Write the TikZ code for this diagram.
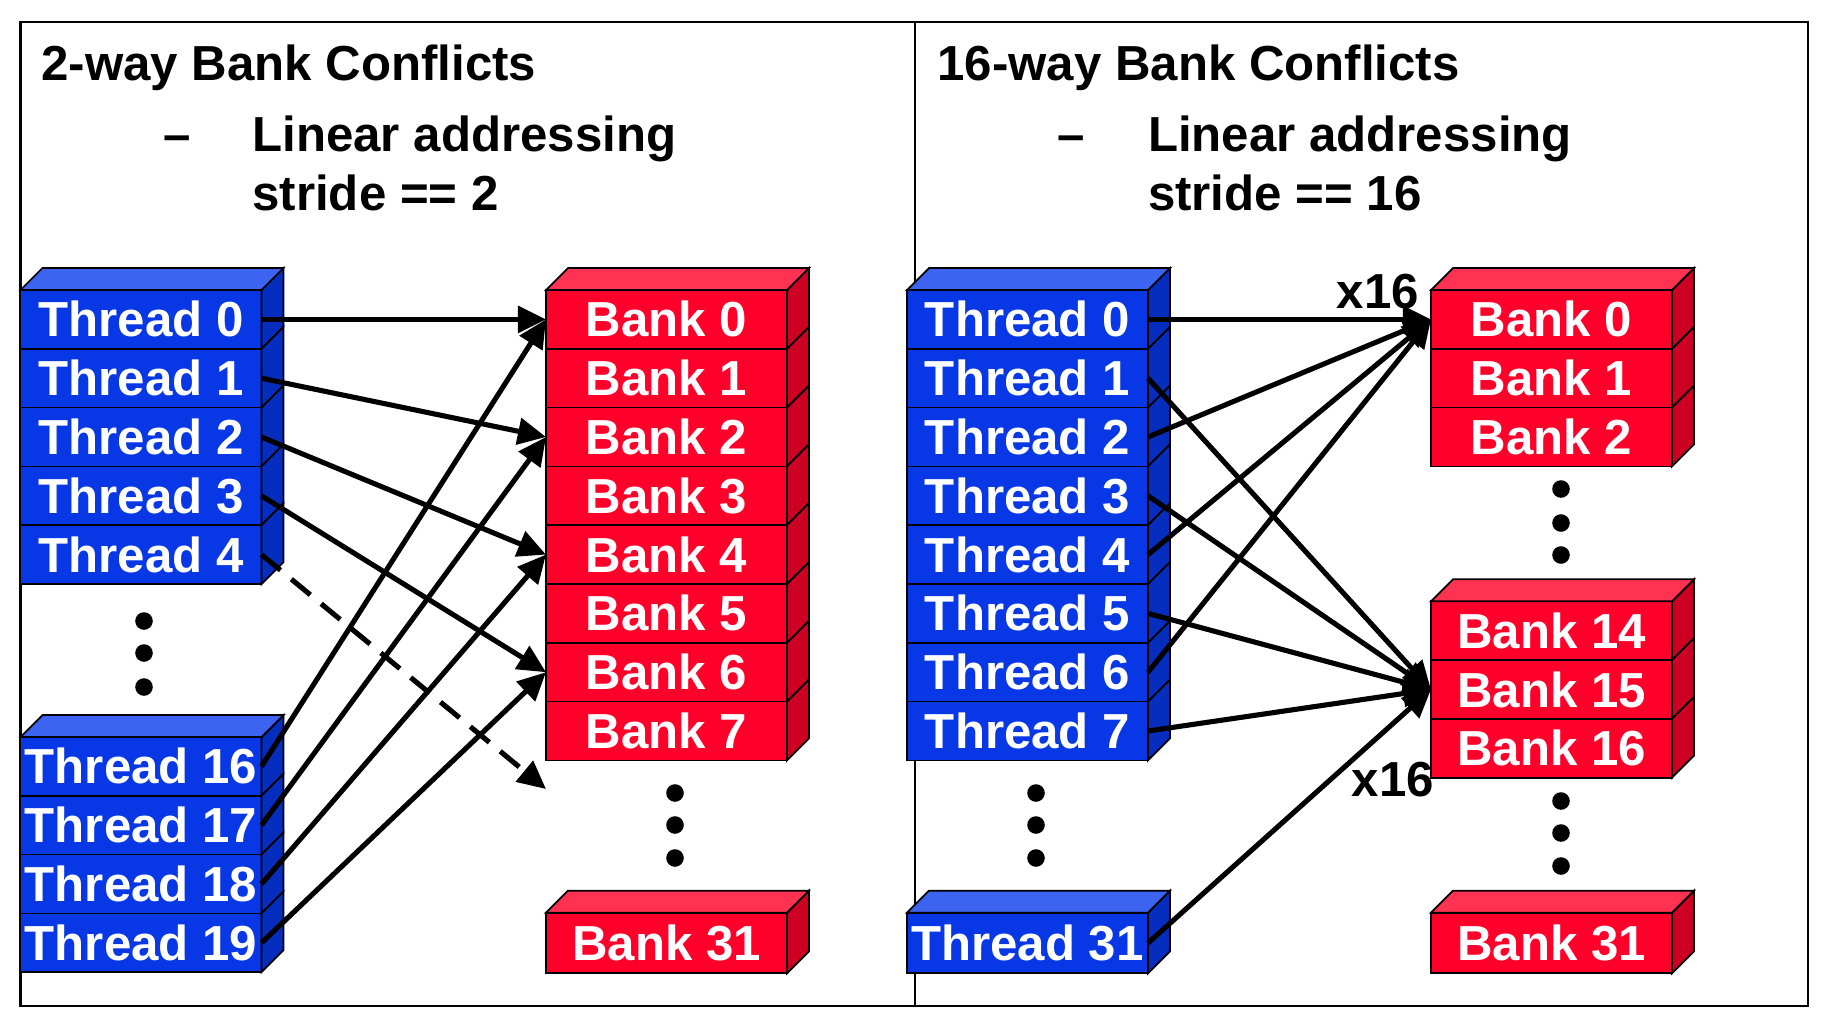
\documentclass[tikz,border=0pt]{standalone}
\usepackage{fontspec}
\setmainfont{Liberation Sans}
\usetikzlibrary{arrows.meta,calc}
\definecolor{tfront}{RGB}{8,56,230}
\definecolor{ttop}{RGB}{60,100,240}
\definecolor{tside}{RGB}{6,46,190}
\definecolor{bfront}{RGB}{255,0,42}
\definecolor{btop}{RGB}{255,50,82}
\definecolor{bside}{RGB}{205,0,35}
\tikzset{hd/.style={anchor=base west,inner sep=0pt,font=\bfseries\fontsize{14}{16}\selectfont}}
\tikzset{th/.style={draw,line width=0.5pt,fill=tfront,text=white,anchor=north west,inner sep=0pt,outer sep=0pt,minimum width=24.1mm,minimum height=5.88mm,font=\bfseries\fontsize{14}{16}\selectfont}}
\tikzset{bk/.style={th,fill=bfront}}
\tikzset{ts/.style={draw,line width=0.5pt,fill=tside}}
\tikzset{tt/.style={draw,line width=0.5pt,fill=ttop}}
\tikzset{bs/.style={draw,line width=0.5pt,fill=bside}}
\tikzset{bt/.style={draw,line width=0.5pt,fill=btop}}
\tikzset{arr/.style={line width=1.45pt,-{Triangle[length=8pt,width=7.5pt]}}}

\begin{document}
\begin{tikzpicture}[x=0.1mm,y=-0.1mm]
\useasboundingbox (0,0) rectangle (1828,1032);
\draw[line width=0.6pt] (20.5,21.7) rectangle (1808,1006);
\draw[line width=0.6pt] (915,21.7) -- (915,1006);

\node[hd] (lh) at (40.8,80) {2-way Bank Conflicts};
\node[hd] (ld) at (163,151.7) {--};
\node[hd] (la) at (251.7,151.7) {Linear addressing};
\node[hd] (ls) at (251.7,210) {stride == 2};
\node[hd] (rh) at (936.7,80) {16-way Bank Conflicts};
\node[hd] (rd) at (1057,151.7) {--};
\node[hd] (ra) at (1147.3,151.7) {Linear addressing};
\node[hd] (rs) at (1147.3,210) {stride == 16};

\foreach \i in {0,...,4}
  \node[th] (lt\i) at (20.5,{290+58.8*\i}) {Thread \i};
\foreach \i in {16,...,19}
  \node[th] (lt\i) at (20.5,{737+58.8*(\i-16)}) {Thread \i};
\foreach \i in {0,...,7}
  \node[bk] (lb\i) at (546,{290+58.8*\i}) {Bank \i};
\node[bk,minimum height=6.06mm] (lb31) at (546,912.7) {Bank 31};
\coordinate (lb8) at (546,789);

\foreach \i in {0,...,7}
  \node[th] (rt\i) at (907,{290+58.8*\i}) {Thread \i};
\node[th,minimum height=6.06mm] (rt31) at (907,912.7) {Thread 31};
\foreach \i in {0,...,2}
  \node[bk] (rb\i) at (1431,{290+58.8*\i}) {Bank \i};
\foreach \i in {14,...,16}
  \node[bk] (rb\i) at (1431,{601.3+58.8*(\i-14)}) {Bank \i};
\node[bk,minimum height=6.06mm] (rb31) at (1431,912.7) {Bank 31};

\foreach \nd in {lt0,lt1,lt2,lt3,lt4,lt16,lt17,lt18,lt19,rt0,rt1,rt2,rt3,rt4,rt5,rt6,rt7,rt31}
  \filldraw[ts] (\nd.north east) -- ++(22,-22) -- ($(\nd.south east)+(22,-22)$) -- (\nd.south east) -- cycle;
\foreach \nd in {lt0,lt16,rt0,rt31}
  \filldraw[tt] (\nd.north west) -- ++(22,-22) -- ($(\nd.north east)+(22,-22)$) -- (\nd.north east) -- cycle;
\foreach \nd in {lb0,lb1,lb2,lb3,lb4,lb5,lb6,lb7,lb31,rb0,rb1,rb2,rb14,rb15,rb16,rb31}
  \filldraw[bs] (\nd.north east) -- ++(22,-22) -- ($(\nd.south east)+(22,-22)$) -- (\nd.south east) -- cycle;
\foreach \nd in {lb0,lb31,rb0,rb14,rb31}
  \filldraw[bt] (\nd.north west) -- ++(22,-22) -- ($(\nd.north east)+(22,-22)$) -- (\nd.north east) -- cycle;

\foreach \y in {621,653,687}
  \fill (144,\y) circle[radius=0.88mm];
\foreach \y in {793,825,858} {
  \fill (675,\y) circle[radius=0.88mm];
  \fill (1036,\y) circle[radius=0.88mm];
}
\foreach \y in {489,523,555,801,833,866}
  \fill (1561,\y) circle[radius=0.88mm];

\foreach \i/\j in {0/0,1/2,2/4,3/6,16/0,17/2,18/4,19/6}
  \draw[arr] (lt\i.east) -- (lb\j.west);
\draw[arr,dash pattern=on 7pt off 4pt] (lt4.east) -- (lb8);

\foreach \i in {0,2,4,6}
  \draw[arr] (rt\i.east) -- (rb0.west);
\foreach \i in {1,3,5,7,31}
  \draw[arr] (rt\i.east) -- (rb15.west);

\node[hd,anchor=base] (xa) at (1378,308) {x16};
\node[hd,anchor=base] (xb) at (1393,796) {x16};
\end{tikzpicture}
\end{document}
